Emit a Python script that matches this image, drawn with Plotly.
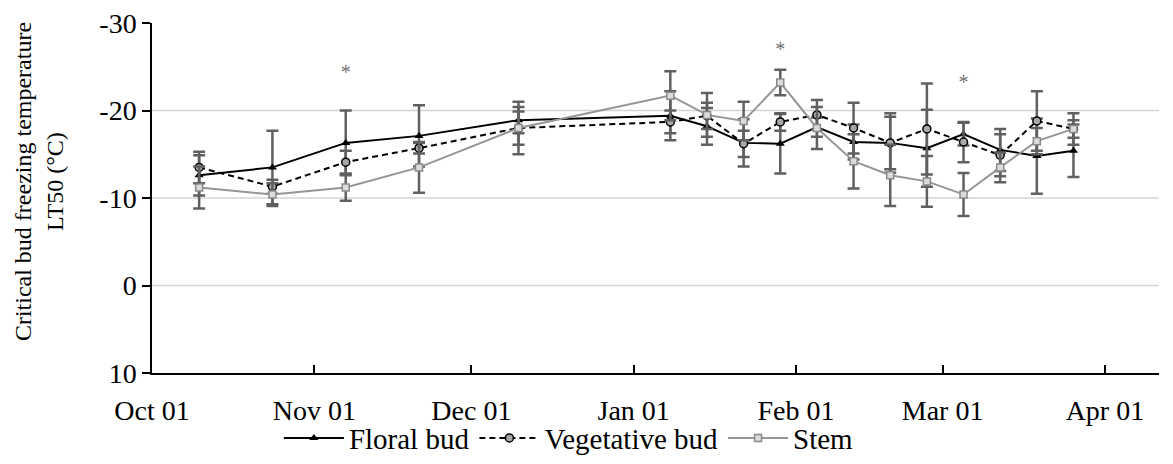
import plotly.graph_objects as go

# Sampling dates
dates = ["2018-10-10", "2018-10-24", "2018-11-07", "2018-11-21", "2018-12-10",
         "2019-01-08", "2019-01-15", "2019-01-22", "2019-01-29", "2019-02-05",
         "2019-02-12", "2019-02-19", "2019-02-26", "2019-03-05", "2019-03-12",
         "2019-03-19", "2019-03-26"]

# LT50 means (°C)
floral = [-12.6, -13.5, -16.3, -17.1, -18.9, -19.4, -18.2, -16.3, -16.2, -18.1,
          -16.4, -16.3, -15.7, -17.3, -15.5, -14.8, -15.4]
vegetative = [-13.5, -11.3, -14.1, -15.7, -18.0, -18.7, -19.4, -16.2, -18.7, -19.5,
              -18.0, -16.3, -17.9, -16.4, -14.9, -18.8, -17.9]
stem = [-11.2, -10.4, -11.2, -13.5, -18.0, -21.7, -19.5, -18.8, -23.2, -18.0,
        -14.2, -12.6, -11.9, -10.4, -13.5, -16.5, -17.9]

# Error bar half-widths
floral_err = [2.3, 4.2, 3.7, 3.5, 1.5, 2.8, 2.1, 2.7, 3.4, 1.1, 2.0, 3.4, 4.4, 1.3, 2.4, 4.3, 3.0]
vegetative_err = [1.8, 0.8, 1.3, 0.6, 1.9, 1.3, 1.5, 1.5, 1.0, 1.7, 2.9, 3.0, 5.2, 2.3, 2.4, 3.4, 1.0]
stem_err = [2.4, 1.3, 1.5, 2.9, 3.0, 2.8, 2.5, 2.2, 1.45, 2.4, 3.1, 3.5, 2.9, 2.45, 1.7, 1.5, 1.8]

# Significance markers
sig_dates = ["2018-11-07", "2019-01-29", "2019-03-05"]
sig_y = [-24.2, -26.8, -23.0]

# Axis ticks
month_ticks = ["2018-10-01", "2018-11-01", "2018-12-01", "2019-01-01",
               "2019-02-01", "2019-03-01", "2019-04-01"]
month_labels = ["Oct 01", "Nov 01", "Dec 01", "Jan 01", "Feb 01", "Mar 01", "Apr 01"]
y_ticks = [-30, -20, -10, 0, 10]
y_labels = ["-30", "-20", "-10", "0", "10"]
grid_vals = [-20, -10, 0]

FONT = "Liberation Serif"
ERR_COLOR = "#606060"

def err(vals):
    return dict(type="data", array=vals, visible=True, color=ERR_COLOR,
                thickness=2.5, width=6)

fig = go.Figure()
fig.add_trace(go.Scatter(
    x=dates, y=floral, name="Floral bud", mode="lines+markers",
    line=dict(color="black", width=2),
    marker=dict(symbol="triangle-up", size=8, color="black"),
    error_y=err(floral_err)))
fig.add_trace(go.Scatter(
    x=dates, y=vegetative, name="Vegetative bud", mode="lines+markers",
    line=dict(color="black", width=2, dash="6px,4px"),
    marker=dict(symbol="circle", size=8, color="#a8a8a8",
                line=dict(color="black", width=1.5)),
    error_y=err(vegetative_err)))
fig.add_trace(go.Scatter(
    x=dates, y=stem, name="Stem", mode="lines+markers",
    line=dict(color="#969696", width=2),
    marker=dict(symbol="square", size=7, color="#dcdcdc",
                line=dict(color="#8a8a8a", width=1.5)),
    error_y=err(stem_err)))

fig.add_trace(go.Scatter(
    x=sig_dates, y=sig_y, mode="text", text=["*"] * len(sig_dates),
    textfont=dict(family=FONT, size=20, color="#707070"),
    showlegend=False, hoverinfo="skip"))

for g in grid_vals:
    fig.add_shape(type="line", xref="paper", x0=0, x1=1, yref="y", y0=g, y1=g,
                  line=dict(color="#d4d4d4", width=1.5), layer="below")

fig.update_layout(
    width=1173, height=464,
    margin=dict(l=152, r=14, t=23, b=91, autoexpand=False),
    paper_bgcolor="white", plot_bgcolor="white",
    font=dict(family=FONT, size=28, color="black"),
    showlegend=True,
    legend=dict(orientation="h", x=0.414, xanchor="center", y=-0.186,
                yanchor="middle", font=dict(family=FONT, size=29),
                itemwidth=60, tracegroupgap=0, bgcolor="rgba(0,0,0,0)"),
    annotations=[dict(
        text="Critical bud freezing temperature<br>LT50 (°C)",
        xref="paper", yref="paper", x=-0.112, y=0.546, xanchor="center",
        yanchor="middle", textangle=-90, showarrow=False,
        font=dict(family=FONT, size=24, color="black"))],
)

fig.update_xaxes(
    type="date", range=["2018-10-01", "2019-04-11 08:00"],
    tickvals=month_ticks, ticktext=month_labels,
    ticks="inside", ticklen=8, tickwidth=1.5, tickcolor="black",
    showline=True, linecolor="black", linewidth=1.5, showgrid=False,
    zeroline=False, automargin=False, ticklabelstandoff=12,
    tickfont=dict(family=FONT, size=28, color="black"))
fig.update_yaxes(
    range=[10, -30], tickvals=y_ticks, ticktext=y_labels, ticks="outside",
    ticklen=8, tickwidth=1.5, tickcolor="black", showline=True,
    linecolor="black", linewidth=1.5, showgrid=False, zeroline=False,
    automargin=False,
    tickfont=dict(family=FONT, size=28, color="black"))

fig.write_html("out.html")
